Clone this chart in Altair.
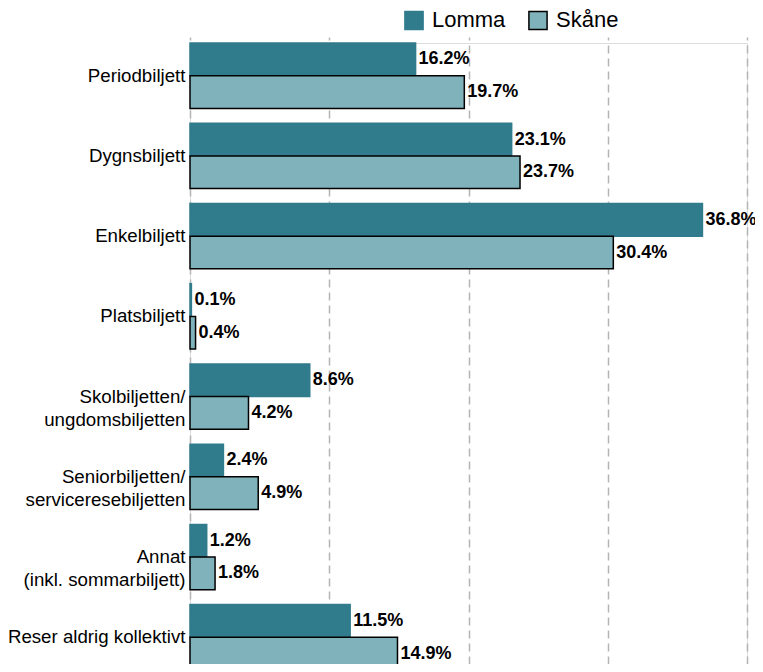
import altair as alt
import pandas as pd

categories = [
    "Periodbiljett",
    "Dygnsbiljett",
    "Enkelbiljett",
    "Platsbiljett",
    "Skolbiljetten/\nungdomsbiljetten",
    "Seniorbiljetten/\nserviceresebiljetten",
    "Annat\n(inkl. sommarbiljett)",
    "Reser aldrig kollektivt",
]
lomma = [16.2, 23.1, 36.8, 0.1, 8.6, 2.4, 1.2, 11.5]
skane = [19.7, 23.7, 30.4, 0.4, 4.2, 4.9, 1.8, 14.9]
series = ["Lomma", "Skåne"]
colors = ["#307b8c", "#7fb2bb"]
strokes = ["#307b8c", "#000000"]

rows = []
for i, c in enumerate(categories):
    rows.append({"cat": c, "series": series[0], "value": lomma[i]})
    rows.append({"cat": c, "series": series[1], "value": skane[i]})
df = pd.DataFrame(rows)
df["label"] = df["value"].map(lambda v: f"{v:.1f}%")

y_enc = alt.Y(
    "cat:N",
    sort=categories,
    scale=alt.Scale(paddingInner=0.185, paddingOuter=0, range=[0, 627]),
    axis=alt.Axis(
        title=None, domain=False, ticks=False, labelPadding=5,
        labelFontSize=18.7, labelFont="Liberation Sans", labelColor="#000000",
        labelLineHeight=23, labelExpr="split(datum.label, '\\n')",
    ),
)
x_enc = alt.X(
    "value:Q",
    scale=alt.Scale(domain=[0, 40], nice=False),
    axis=alt.Axis(
        title=None, labels=False, ticks=False, domain=False,
        values=[0, 10, 20, 30, 40], grid=True, gridColor="#b4b4b4",
        gridDash=[8, 5], gridWidth=1.5,
    ),
)

bars = alt.Chart(df).mark_bar(strokeWidth=1.5).encode(
    y=y_enc,
    x=x_enc,
    yOffset=alt.YOffset("series:N", sort=series),
    fill=alt.Fill(
        "series:N",
        sort=series,
        scale=alt.Scale(domain=series, range=colors),
        legend=alt.Legend(
            title=None, orient="none", legendX=213, legendY=-34,
            direction="horizontal", symbolType="square", symbolSize=330,
            symbolStrokeWidth=1.5, labelFontSize=22, labelFont="Liberation Sans",
            labelColor="#000000", labelOffset=7, columnPadding=19, padding=0,
        ),
    ),
    stroke=alt.Stroke(
        "series:N",
        sort=series,
        scale=alt.Scale(domain=series, range=strokes),
        legend=None,
    ),
)

texts = alt.Chart(df).mark_text(
    align="left", baseline="middle", dx=3, fontSize=18,
    fontWeight="bold", font="Liberation Sans", color="#000000",
).encode(
    y=alt.Y("cat:N", sort=categories),
    x=alt.X("value:Q"),
    yOffset=alt.YOffset("series:N", sort=series),
    text="label:N",
)

chart = alt.layer(bars, texts).properties(
    width=557, height=621,
    padding={"left": 182, "top": 35, "right": 8, "bottom": 0},
    autosize=alt.AutoSizeParams(type="none"),
).configure_view(stroke=None).configure(background="#ffffff")

chart.save("out.html", embed_options={"renderer": "svg", "actions": False})
